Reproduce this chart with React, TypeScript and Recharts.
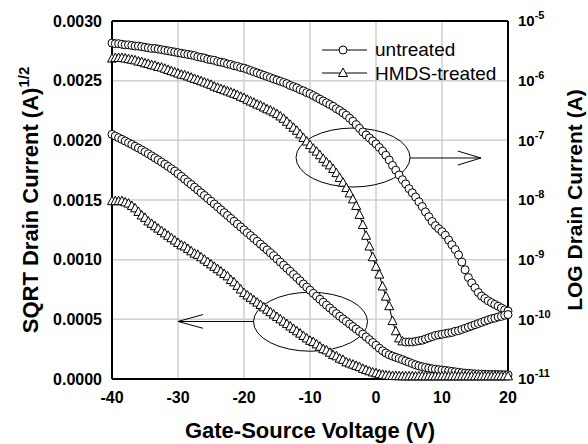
import React from 'react';
import {
  ComposedChart,
  Line,
  XAxis,
  YAxis,
  CartesianGrid,
  ReferenceLine,
  ReferenceDot,
  Legend,
  Label,
} from 'recharts';

const FONT = '"Liberation Sans", Arial, Helvetica, sans-serif';

// Gate-source voltage (V), 0.5 V steps
const gateVoltage = [
  -40, -39.5, -39, -38.5, -38, -37.5, -37, -36.5, -36, -35.5,
  -35, -34.5, -34, -33.5, -33, -32.5, -32, -31.5, -31, -30.5,
  -30, -29.5, -29, -28.5, -28, -27.5, -27, -26.5, -26, -25.5,
  -25, -24.5, -24, -23.5, -23, -22.5, -22, -21.5, -21, -20.5,
  -20, -19.5, -19, -18.5, -18, -17.5, -17, -16.5, -16, -15.5,
  -15, -14.5, -14, -13.5, -13, -12.5, -12, -11.5, -11, -10.5,
  -10, -9.5, -9, -8.5, -8, -7.5, -7, -6.5, -6, -5.5,
  -5, -4.5, -4, -3.5, -3, -2.5, -2, -1.5, -1, -0.5,
  0, 0.5, 1, 1.5, 2, 2.5, 3, 3.5, 4, 4.5,
  5, 5.5, 6, 6.5, 7, 7.5, 8, 8.5, 9, 9.5,
  10, 10.5, 11, 11.5, 12, 12.5, 13, 13.5, 14, 14.5,
  15, 15.5, 16, 16.5, 17, 17.5, 18, 18.5, 19, 19.5,
  20,
];

// log10 of drain current (A), untreated (circles, right axis)
const untreatedLog = [
  -5.37, -5.38, -5.38, -5.39, -5.40, -5.40, -5.41, -5.42, -5.42, -5.43,
  -5.44, -5.45, -5.46, -5.46, -5.47, -5.48, -5.49, -5.50, -5.51, -5.52,
  -5.53, -5.54, -5.55, -5.56, -5.57, -5.58, -5.60, -5.61, -5.62, -5.64,
  -5.65, -5.66, -5.68, -5.69, -5.70, -5.72, -5.73, -5.75, -5.76, -5.78,
  -5.79, -5.81, -5.83, -5.85, -5.87, -5.89, -5.91, -5.93, -5.95, -5.97,
  -5.99, -6.01, -6.03, -6.05, -6.08, -6.10, -6.12, -6.15, -6.17, -6.20,
  -6.22, -6.25, -6.28, -6.31, -6.34, -6.37, -6.40, -6.43, -6.47, -6.50,
  -6.54, -6.58, -6.63, -6.68, -6.74, -6.80, -6.86, -6.91, -6.96, -7.01,
  -7.06, -7.12, -7.18, -7.25, -7.33, -7.42, -7.50, -7.58, -7.66, -7.73,
  -7.81, -7.88, -7.95, -8.03, -8.11, -8.20, -8.28, -8.36, -8.43, -8.48,
  -8.53, -8.59, -8.67, -8.75, -8.83, -8.92, -9.04, -9.17, -9.30, -9.39,
  -9.47, -9.55, -9.61, -9.65, -9.69, -9.72, -9.75, -9.78, -9.81, -9.84,
  -9.86,
];

// log10 of drain current (A), HMDS-treated (triangles, right axis), -40 V .. 4 V
const hmdsLog = [
  -5.63, -5.62, -5.62, -5.62, -5.63, -5.64, -5.65, -5.66, -5.68, -5.69,
  -5.71, -5.72, -5.74, -5.75, -5.77, -5.78, -5.80, -5.82, -5.84, -5.86,
  -5.88, -5.90, -5.91, -5.93, -5.95, -5.97, -5.99, -6.01, -6.03, -6.05,
  -6.07, -6.10, -6.12, -6.14, -6.16, -6.18, -6.20, -6.22, -6.24, -6.27,
  -6.29, -6.32, -6.35, -6.37, -6.40, -6.42, -6.45, -6.48, -6.50, -6.53,
  -6.56, -6.60, -6.64, -6.69, -6.74, -6.79, -6.84, -6.90, -6.96, -7.02,
  -7.08, -7.14, -7.19, -7.25, -7.31, -7.37, -7.42, -7.48, -7.55, -7.63,
  -7.71, -7.80, -7.89, -7.99, -8.10, -8.25, -8.42, -8.60, -8.78, -8.96,
  -9.12, -9.25, -9.45, -9.62, -9.78, -10.03, -10.20, -10.32, -10.37,
];

// off-current tail (circles, right axis), 4.5 V .. 20 V
const tailStartVoltage = 4.5;
const hmdsLogTail = [
  -10.38, -10.38, -10.38, -10.37, -10.36, -10.35, -10.33, -10.31, -10.29, -10.27,
  -10.26, -10.25, -10.24, -10.23, -10.22, -10.20, -10.19, -10.17, -10.15, -10.13,
  -10.11, -10.09, -10.07, -10.05, -10.03, -10.01, -9.99, -9.98, -9.96, -9.95,
  -9.93, -9.92,
];

// SQRT drain current (A^1/2), untreated (circles, left axis)
const untreatedSqrt = [
  0.002050, 0.002036, 0.002022, 0.002008, 0.001994, 0.001980, 0.001966, 0.001950, 0.001935, 0.001920,
  0.001904, 0.001887, 0.001870, 0.001853, 0.001836, 0.001818, 0.001800, 0.001781, 0.001762, 0.001742,
  0.001720, 0.001698, 0.001675, 0.001652, 0.001630, 0.001607, 0.001584, 0.001561, 0.001538, 0.001514,
  0.001490, 0.001466, 0.001442, 0.001418, 0.001394, 0.001370, 0.001346, 0.001322, 0.001298, 0.001274,
  0.001250, 0.001226, 0.001202, 0.001178, 0.001154, 0.001130, 0.001106, 0.001082, 0.001057, 0.001032,
  0.001006, 0.000980, 0.000954, 0.000928, 0.000902, 0.000876, 0.000850, 0.000823, 0.000796, 0.000770,
  0.000744, 0.000718, 0.000693, 0.000668, 0.000643, 0.000619, 0.000595, 0.000571, 0.000548, 0.000526,
  0.000504, 0.000482, 0.000461, 0.000440, 0.000419, 0.000398, 0.000376, 0.000353, 0.000330, 0.000306,
  0.000282, 0.000258, 0.000236, 0.000218, 0.000203, 0.000192, 0.000182, 0.000172, 0.000162, 0.000151,
  0.000140, 0.000129, 0.000119, 0.000110, 0.000103, 0.000097, 0.000091, 0.000086, 0.000082, 0.000078,
  0.000075, 0.000072, 0.000068, 0.000064, 0.000060, 0.000056, 0.000052, 0.000049, 0.000047, 0.000045,
  0.000043, 0.000042, 0.000041, 0.000040, 0.000039, 0.000038, 0.000038, 0.000037, 0.000037, 0.000036,
  0.000036,
];

// SQRT drain current (A^1/2), HMDS-treated (triangles, left axis)
const hmdsSqrt = [
  0.00149, 0.00149, 0.00149, 0.00149, 0.00148, 0.00147, 0.00145, 0.00143, 0.00140, 0.00137,
  0.00135, 0.00132, 0.00130, 0.00128, 0.00126, 0.00124, 0.00122, 0.00120, 0.00118, 0.00116,
  0.00114, 0.00112, 0.00111, 0.00109, 0.00107, 0.00105, 0.00104, 0.00102, 0.00100, 0.00098,
  0.00096, 0.00094, 0.00092, 0.00090, 0.00088, 0.00086, 0.00083, 0.00081, 0.00078, 0.00075,
  0.00072, 0.00070, 0.00068, 0.00066, 0.00064, 0.00062, 0.00060, 0.00058, 0.00056, 0.00054,
  0.00052, 0.00050, 0.00048, 0.00046, 0.00044, 0.00042, 0.00040, 0.00038, 0.00036, 0.00034,
  0.00032, 0.00031, 0.00029, 0.00027, 0.00025, 0.00024, 0.00022, 0.00020, 0.00019, 0.00017,
  0.00016, 0.00014, 0.00013, 0.00012, 0.00011, 0.00010, 0.000085, 0.000075, 0.000065, 0.000055,
  0.000048, 0.000040, 0.000035, 0.000030, 0.000027, 0.000025, 0.000024, 0.000023, 0.000023, 0.000022,
  0.000022, 0.000022, 0.000022, 0.000022, 0.000022, 0.000022, 0.000022, 0.000022, 0.000022, 0.000022,
  0.000022, 0.000022, 0.000022, 0.000022, 0.000022, 0.000022, 0.000022, 0.000022, 0.000022, 0.000022,
  0.000022, 0.000022, 0.000022, 0.000022, 0.000022, 0.000022, 0.000022, 0.000022, 0.000022, 0.000022,
  0.000022,
];

const xTicks = [-40, -30, -20, -10, 0, 10, 20];
const sqrtTicks = [0, 0.0005, 0.001, 0.0015, 0.002, 0.0025, 0.003];
const logTicks = [-11, -10, -9, -8, -7, -6, -5];
const seriesNames = ['untreated', 'HMDS-treated'];

// annotation anchors in data coordinates (V, left-axis value)
const upperEllipse = { v: -3.48, y: 0.001856 };
const lowerEllipse = { v: -9.92, y: 0.00048 };
const upperArrow = [
  [{ x: 5.15, y: 0.001852 }, { x: 15.9, y: 0.001852 }],
  [{ x: 12.4, y: 0.00191 }, { x: 15.9, y: 0.001852 }],
  [{ x: 12.4, y: 0.001793 }, { x: 15.9, y: 0.001852 }],
];
const lowerArrow = [
  [{ x: -18.56, y: 0.000482 }, { x: -30, y: 0.000482 }],
  [{ x: -26.2, y: 0.00054 }, { x: -30, y: 0.000482 }],
  [{ x: -26.2, y: 0.000425 }, { x: -30, y: 0.000482 }],
];

const tailStart = gateVoltage.indexOf(tailStartVoltage);
const data = gateVoltage.map((v, i) => ({
  v,
  uLog: untreatedLog[i],
  hLog: i < hmdsLog.length ? hmdsLog[i] : null,
  hTail: i >= tailStart ? hmdsLogTail[i - tailStart] : null,
  uSqrt: untreatedSqrt[i],
  hSqrt: hmdsSqrt[i],
}));

const circlePath = (cx: number, cy: number) => (
  <circle cx={cx} cy={cy} r={4} fill="#fff" stroke="#000" strokeWidth={1} />
);
const trianglePath = (cx: number, cy: number) => (
  <path
    d={`M${cx},${cy - 5}L${cx + 4.5},${cy + 3.5}L${cx - 4.5},${cy + 3.5}Z`}
    fill="#fff"
    stroke="#000"
    strokeWidth={1}
  />
);

const CircleDot = (props: any) => {
  const { cx, cy, index, value } = props;
  if (cx == null || cy == null || value == null || isNaN(cy)) return <g key={`c${index}`} />;
  return <g key={`c${index}`}>{circlePath(cx, cy)}</g>;
};
const TriangleDot = (props: any) => {
  const { cx, cy, index, value } = props;
  if (cx == null || cy == null || value == null || isNaN(cy)) return <g key={`t${index}`} />;
  return <g key={`t${index}`}>{trianglePath(cx, cy)}</g>;
};

const LogTick = (props: any) => {
  const { x, y, payload } = props;
  return (
    <text x={x} y={y} dy="0.355em" textAnchor="start" fontFamily={FONT} fontWeight="bold" fontSize={15} fill="#000">
      <tspan>10</tspan>
      <tspan dy={-7} fontSize={11}>{String(payload.value)}</tspan>
    </text>
  );
};

const LegendBox = () => (
  <svg width={200} height={50} style={{ display: 'block', overflow: 'visible' }}>
    <line x1={4} x2={49} y1={12} y2={12} stroke="#000" strokeWidth={1} />
    {circlePath(25, 12)}
    <text x={57} y={18} fontFamily={FONT} fontSize={19} fill="#000">{seriesNames[0]}</text>
    <line x1={4} x2={49} y1={35} y2={35} stroke="#000" strokeWidth={1} />
    {trianglePath(25, 35)}
    <text x={57} y={42} fontFamily={FONT} fontSize={19} fill="#000">{seriesNames[1]}</text>
  </svg>
);

const ellipseShape = (p: any) => (
  <ellipse cx={p.cx} cy={p.cy} rx={57} ry={29.5} fill="none" stroke="#000" strokeWidth={1} />
);

export default function App() {
  const tickStyle = { fontFamily: FONT, fontWeight: 'bold', fontSize: 16, fill: '#000' };
  return (
    <div style={{ position: 'absolute', left: 0, top: 0, width: 588, height: 444, background: '#fff' }}>
      <ComposedChart
        width={588}
        height={444}
        data={data}
        margin={{ top: 21, right: 0, bottom: 0, left: 0 }}
      >
        <CartesianGrid stroke="#cfcfcf" strokeWidth={1.5} />
        <XAxis
          type="number"
          dataKey="v"
          domain={[-40, 20]}
          ticks={xTicks}
          interval={0}
          height={65}
          tickLine={false}
          tickSize={6}
          tickMargin={7}
          axisLine={{ stroke: '#000', strokeWidth: 2 }}
          tick={tickStyle}
        >
          <Label
            content={(p: any) => {
              const vb = p.viewBox || { x: 112, y: 379, width: 396, height: 65 };
              return (
                <text
                  x={vb.x + vb.width / 2}
                  y={vb.y + 59}
                  textAnchor="middle"
                  fontFamily={FONT}
                  fontWeight="bold"
                  fontSize={22}
                  fill="#000"
                >
                  Gate-Source Voltage (V)
                </text>
              );
            }}
          />
        </XAxis>
        <YAxis
          type="number"
          domain={[0, 0.003]}
          ticks={sqrtTicks}
          interval={0}
          width={112}
          tickLine={false}
          tickSize={6}
          tickMargin={4}
          axisLine={{ stroke: '#000', strokeWidth: 2 }}
          tick={tickStyle}
          tickFormatter={(v: number) => v.toFixed(4)}
        >
          <Label
            content={(p: any) => {
              const vb = p.viewBox || { x: 0, y: 21, width: 112, height: 358 };
              const cx = vb.x + 38;
              const cy = vb.y + vb.height / 2;
              return (
                <text
                  x={cx}
                  y={cy}
                  transform={`rotate(-90, ${cx}, ${cy})`}
                  textAnchor="middle"
                  fontFamily={FONT}
                  fontWeight="bold"
                  fontSize={22}
                  fill="#000"
                >
                  SQRT Drain Current (A)
                  <tspan dy={-9} fontSize={15}>1/2</tspan>
                </text>
              );
            }}
          />
        </YAxis>
        <YAxis
          yAxisId="right"
          orientation="right"
          type="number"
          domain={[-11, -5]}
          ticks={logTicks}
          interval={0}
          width={80}
          tickLine={false}
          tickSize={6}
          tickMargin={4}
          allowDataOverflow
          axisLine={{ stroke: '#000', strokeWidth: 2 }}
          tick={<LogTick />}
        >
          <Label
            content={(p: any) => {
              const vb = p.viewBox || { x: 508, y: 21, width: 80, height: 358 };
              const cx = vb.x + 74;
              const cy = vb.y + vb.height / 2;
              return (
                <text
                  x={cx}
                  y={cy}
                  transform={`rotate(-90, ${cx}, ${cy})`}
                  textAnchor="middle"
                  fontFamily={FONT}
                  fontWeight="bold"
                  fontSize={21}
                  fill="#000"
                >
                  LOG Drain Current (A)
                </text>
              );
            }}
          />
        </YAxis>
        <ReferenceLine y={0.003} stroke="#000" strokeWidth={2} />

        <Line
          yAxisId="right"
          dataKey="uLog"
          name={seriesNames[0]}
          stroke="#000"
          strokeWidth={1}
          dot={CircleDot}
          activeDot={false}
          isAnimationActive={false}
        />
        <Line
          yAxisId="right"
          dataKey="hLog"
          name={seriesNames[1]}
          stroke="#000"
          strokeWidth={1}
          dot={TriangleDot}
          activeDot={false}
          isAnimationActive={false}
          legendType="none"
        />
        <Line
          yAxisId="right"
          dataKey="hTail"
          stroke="#000"
          strokeWidth={1}
          dot={CircleDot}
          activeDot={false}
          isAnimationActive={false}
          legendType="none"
        />
        <Line
          dataKey="uSqrt"
          stroke="#000"
          strokeWidth={1}
          dot={CircleDot}
          activeDot={false}
          isAnimationActive={false}
          legendType="none"
        />
        <Line
          dataKey="hSqrt"
          stroke="#000"
          strokeWidth={1}
          dot={TriangleDot}
          activeDot={false}
          isAnimationActive={false}
          legendType="none"
        />

        <ReferenceDot x={upperEllipse.v} y={upperEllipse.y} shape={ellipseShape} />
        <ReferenceDot x={lowerEllipse.v} y={lowerEllipse.y} shape={ellipseShape} />
        {upperArrow.map((seg, i) => (
          <ReferenceLine key={`ua${i}`} segment={seg} stroke="#000" strokeWidth={1} />
        ))}
        {lowerArrow.map((seg, i) => (
          <ReferenceLine key={`la${i}`} segment={seg} stroke="#000" strokeWidth={1} />
        ))}

        <Legend
          layout="vertical"
          align="center"
          verticalAlign="middle"
          wrapperStyle={{ position: 'absolute', left: 318, top: 38, width: 200, height: 50 }}
          content={() => <LegendBox />}
        />
      </ComposedChart>
    </div>
  );
}
